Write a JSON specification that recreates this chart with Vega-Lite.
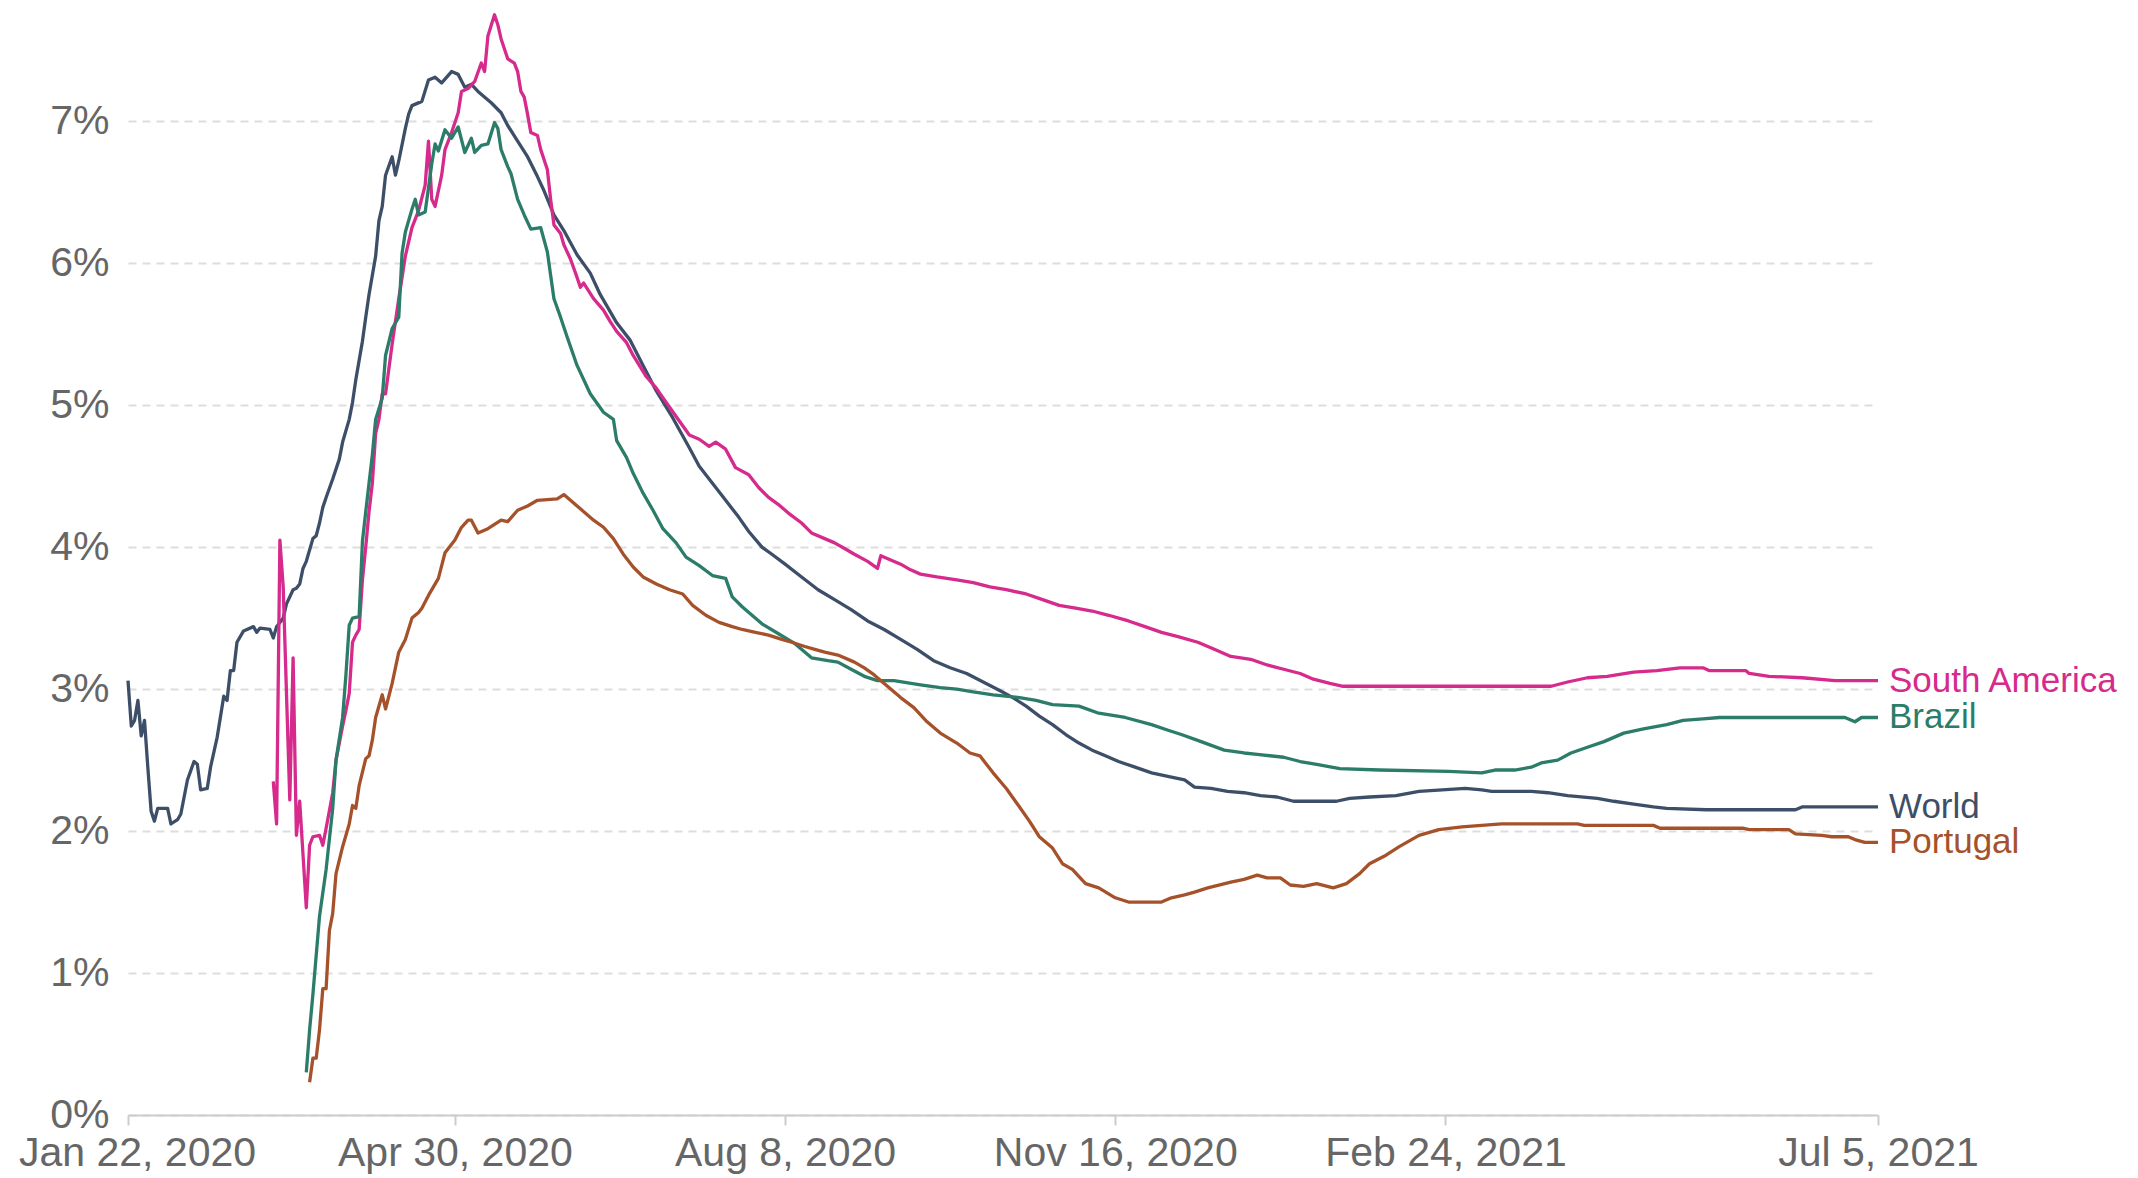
{
"$schema": "https://vega.github.io/schema/vega-lite/v6.json",
"width": 1750, "height": 1115,
"autosize": {"type": "none"},
"padding": {"left": 128, "top": 0, "right": 260, "bottom": 63},
"background": "white",
"config": {"view": {"stroke": null}, "font": "Liberation Sans"},
"data": {"format": {"parse": {"date": "utc:'%Y-%m-%d'"}}, "values": [
{"entity":"World","date":"2020-01-22","value":3.06},
{"entity":"World","date":"2020-01-23","value":2.74},
{"entity":"World","date":"2020-01-24","value":2.78},
{"entity":"World","date":"2020-01-25","value":2.92},
{"entity":"World","date":"2020-01-26","value":2.67},
{"entity":"World","date":"2020-01-27","value":2.78},
{"entity":"World","date":"2020-01-28","value":2.45},
{"entity":"World","date":"2020-01-29","value":2.14},
{"entity":"World","date":"2020-01-30","value":2.07},
{"entity":"World","date":"2020-01-31","value":2.16},
{"entity":"World","date":"2020-02-03","value":2.16},
{"entity":"World","date":"2020-02-04","value":2.05},
{"entity":"World","date":"2020-02-06","value":2.08},
{"entity":"World","date":"2020-02-07","value":2.12},
{"entity":"World","date":"2020-02-09","value":2.36},
{"entity":"World","date":"2020-02-11","value":2.49},
{"entity":"World","date":"2020-02-12","value":2.47},
{"entity":"World","date":"2020-02-13","value":2.29},
{"entity":"World","date":"2020-02-15","value":2.30},
{"entity":"World","date":"2020-02-16","value":2.45},
{"entity":"World","date":"2020-02-18","value":2.66},
{"entity":"World","date":"2020-02-20","value":2.95},
{"entity":"World","date":"2020-02-21","value":2.92},
{"entity":"World","date":"2020-02-22","value":3.13},
{"entity":"World","date":"2020-02-23","value":3.13},
{"entity":"World","date":"2020-02-24","value":3.33},
{"entity":"World","date":"2020-02-26","value":3.41},
{"entity":"World","date":"2020-02-29","value":3.44},
{"entity":"World","date":"2020-03-01","value":3.40},
{"entity":"World","date":"2020-03-02","value":3.43},
{"entity":"World","date":"2020-03-05","value":3.42},
{"entity":"World","date":"2020-03-06","value":3.36},
{"entity":"World","date":"2020-03-07","value":3.44},
{"entity":"World","date":"2020-03-09","value":3.50},
{"entity":"World","date":"2020-03-10","value":3.60},
{"entity":"World","date":"2020-03-12","value":3.70},
{"entity":"World","date":"2020-03-13","value":3.71},
{"entity":"World","date":"2020-03-14","value":3.74},
{"entity":"World","date":"2020-03-15","value":3.85},
{"entity":"World","date":"2020-03-16","value":3.90},
{"entity":"World","date":"2020-03-18","value":4.06},
{"entity":"World","date":"2020-03-19","value":4.08},
{"entity":"World","date":"2020-03-20","value":4.17},
{"entity":"World","date":"2020-03-21","value":4.28},
{"entity":"World","date":"2020-03-22","value":4.35},
{"entity":"World","date":"2020-03-24","value":4.48},
{"entity":"World","date":"2020-03-26","value":4.62},
{"entity":"World","date":"2020-03-27","value":4.74},
{"entity":"World","date":"2020-03-29","value":4.90},
{"entity":"World","date":"2020-03-30","value":5.02},
{"entity":"World","date":"2020-03-31","value":5.18},
{"entity":"World","date":"2020-04-02","value":5.45},
{"entity":"World","date":"2020-04-03","value":5.62},
{"entity":"World","date":"2020-04-04","value":5.78},
{"entity":"World","date":"2020-04-06","value":6.05},
{"entity":"World","date":"2020-04-07","value":6.30},
{"entity":"World","date":"2020-04-08","value":6.40},
{"entity":"World","date":"2020-04-09","value":6.62},
{"entity":"World","date":"2020-04-11","value":6.75},
{"entity":"World","date":"2020-04-12","value":6.62},
{"entity":"World","date":"2020-04-13","value":6.72},
{"entity":"World","date":"2020-04-15","value":6.95},
{"entity":"World","date":"2020-04-16","value":7.05},
{"entity":"World","date":"2020-04-17","value":7.11},
{"entity":"World","date":"2020-04-20","value":7.14},
{"entity":"World","date":"2020-04-22","value":7.29},
{"entity":"World","date":"2020-04-24","value":7.31},
{"entity":"World","date":"2020-04-26","value":7.27},
{"entity":"World","date":"2020-04-29","value":7.35},
{"entity":"World","date":"2020-05-01","value":7.33},
{"entity":"World","date":"2020-05-03","value":7.24},
{"entity":"World","date":"2020-05-05","value":7.26},
{"entity":"World","date":"2020-05-07","value":7.21},
{"entity":"World","date":"2020-05-11","value":7.13},
{"entity":"World","date":"2020-05-14","value":7.06},
{"entity":"World","date":"2020-05-16","value":6.97},
{"entity":"World","date":"2020-05-19","value":6.86},
{"entity":"World","date":"2020-05-22","value":6.75},
{"entity":"World","date":"2020-05-25","value":6.61},
{"entity":"World","date":"2020-05-27","value":6.51},
{"entity":"World","date":"2020-05-30","value":6.34},
{"entity":"World","date":"2020-06-02","value":6.23},
{"entity":"World","date":"2020-06-06","value":6.06},
{"entity":"World","date":"2020-06-10","value":5.93},
{"entity":"World","date":"2020-06-13","value":5.78},
{"entity":"World","date":"2020-06-18","value":5.58},
{"entity":"World","date":"2020-06-22","value":5.46},
{"entity":"World","date":"2020-06-26","value":5.28},
{"entity":"World","date":"2020-06-30","value":5.10},
{"entity":"World","date":"2020-07-05","value":4.91},
{"entity":"World","date":"2020-07-10","value":4.70},
{"entity":"World","date":"2020-07-13","value":4.57},
{"entity":"World","date":"2020-07-17","value":4.45},
{"entity":"World","date":"2020-07-21","value":4.33},
{"entity":"World","date":"2020-07-25","value":4.21},
{"entity":"World","date":"2020-07-28","value":4.11},
{"entity":"World","date":"2020-08-01","value":4.00},
{"entity":"World","date":"2020-08-04","value":3.95},
{"entity":"World","date":"2020-08-08","value":3.88},
{"entity":"World","date":"2020-08-13","value":3.79},
{"entity":"World","date":"2020-08-18","value":3.70},
{"entity":"World","date":"2020-08-23","value":3.63},
{"entity":"World","date":"2020-08-28","value":3.56},
{"entity":"World","date":"2020-09-02","value":3.48},
{"entity":"World","date":"2020-09-07","value":3.42},
{"entity":"World","date":"2020-09-12","value":3.35},
{"entity":"World","date":"2020-09-17","value":3.28},
{"entity":"World","date":"2020-09-22","value":3.20},
{"entity":"World","date":"2020-09-27","value":3.15},
{"entity":"World","date":"2020-10-02","value":3.11},
{"entity":"World","date":"2020-10-07","value":3.05},
{"entity":"World","date":"2020-10-12","value":2.99},
{"entity":"World","date":"2020-10-16","value":2.94},
{"entity":"World","date":"2020-10-20","value":2.88},
{"entity":"World","date":"2020-10-24","value":2.81},
{"entity":"World","date":"2020-10-28","value":2.75},
{"entity":"World","date":"2020-11-01","value":2.68},
{"entity":"World","date":"2020-11-05","value":2.62},
{"entity":"World","date":"2020-11-09","value":2.57},
{"entity":"World","date":"2020-11-13","value":2.53},
{"entity":"World","date":"2020-11-17","value":2.49},
{"entity":"World","date":"2020-11-22","value":2.45},
{"entity":"World","date":"2020-11-27","value":2.41},
{"entity":"World","date":"2020-12-03","value":2.38},
{"entity":"World","date":"2020-12-07","value":2.36},
{"entity":"World","date":"2020-12-10","value":2.31},
{"entity":"World","date":"2020-12-15","value":2.30},
{"entity":"World","date":"2020-12-20","value":2.28},
{"entity":"World","date":"2020-12-25","value":2.27},
{"entity":"World","date":"2020-12-30","value":2.25},
{"entity":"World","date":"2021-01-04","value":2.24},
{"entity":"World","date":"2021-01-09","value":2.21},
{"entity":"World","date":"2021-01-16","value":2.21},
{"entity":"World","date":"2021-01-22","value":2.21},
{"entity":"World","date":"2021-01-26","value":2.23},
{"entity":"World","date":"2021-02-01","value":2.24},
{"entity":"World","date":"2021-02-09","value":2.25},
{"entity":"World","date":"2021-02-16","value":2.28},
{"entity":"World","date":"2021-02-23","value":2.29},
{"entity":"World","date":"2021-03-02","value":2.30},
{"entity":"World","date":"2021-03-07","value":2.29},
{"entity":"World","date":"2021-03-10","value":2.28},
{"entity":"World","date":"2021-03-22","value":2.28},
{"entity":"World","date":"2021-03-27","value":2.27},
{"entity":"World","date":"2021-04-02","value":2.25},
{"entity":"World","date":"2021-04-11","value":2.23},
{"entity":"World","date":"2021-04-16","value":2.21},
{"entity":"World","date":"2021-04-22","value":2.19},
{"entity":"World","date":"2021-04-28","value":2.17},
{"entity":"World","date":"2021-05-02","value":2.16},
{"entity":"World","date":"2021-05-14","value":2.15},
{"entity":"World","date":"2021-05-26","value":2.15},
{"entity":"World","date":"2021-06-10","value":2.15},
{"entity":"World","date":"2021-06-12","value":2.17},
{"entity":"World","date":"2021-07-05","value":2.17},
{"entity":"South America","date":"2020-03-06","value":2.35},
{"entity":"South America","date":"2020-03-07","value":2.05},
{"entity":"South America","date":"2020-03-08","value":4.05},
{"entity":"South America","date":"2020-03-09","value":3.72},
{"entity":"South America","date":"2020-03-11","value":2.22},
{"entity":"South America","date":"2020-03-12","value":3.22},
{"entity":"South America","date":"2020-03-13","value":1.97},
{"entity":"South America","date":"2020-03-14","value":2.21},
{"entity":"South America","date":"2020-03-16","value":1.46},
{"entity":"South America","date":"2020-03-17","value":1.90},
{"entity":"South America","date":"2020-03-18","value":1.96},
{"entity":"South America","date":"2020-03-20","value":1.97},
{"entity":"South America","date":"2020-03-21","value":1.90},
{"entity":"South America","date":"2020-03-22","value":2.02},
{"entity":"South America","date":"2020-03-24","value":2.27},
{"entity":"South America","date":"2020-03-25","value":2.50},
{"entity":"South America","date":"2020-03-27","value":2.74},
{"entity":"South America","date":"2020-03-28","value":2.85},
{"entity":"South America","date":"2020-03-29","value":2.97},
{"entity":"South America","date":"2020-03-30","value":3.33},
{"entity":"South America","date":"2020-03-31","value":3.38},
{"entity":"South America","date":"2020-04-01","value":3.42},
{"entity":"South America","date":"2020-04-02","value":3.77},
{"entity":"South America","date":"2020-04-03","value":4.00},
{"entity":"South America","date":"2020-04-04","value":4.25},
{"entity":"South America","date":"2020-04-05","value":4.45},
{"entity":"South America","date":"2020-04-06","value":4.80},
{"entity":"South America","date":"2020-04-07","value":4.90},
{"entity":"South America","date":"2020-04-08","value":5.08},
{"entity":"South America","date":"2020-04-09","value":5.08},
{"entity":"South America","date":"2020-04-11","value":5.43},
{"entity":"South America","date":"2020-04-13","value":5.75},
{"entity":"South America","date":"2020-04-15","value":6.05},
{"entity":"South America","date":"2020-04-17","value":6.25},
{"entity":"South America","date":"2020-04-19","value":6.37},
{"entity":"South America","date":"2020-04-21","value":6.55},
{"entity":"South America","date":"2020-04-22","value":6.86},
{"entity":"South America","date":"2020-04-23","value":6.45},
{"entity":"South America","date":"2020-04-24","value":6.40},
{"entity":"South America","date":"2020-04-26","value":6.62},
{"entity":"South America","date":"2020-04-27","value":6.80},
{"entity":"South America","date":"2020-04-29","value":6.92},
{"entity":"South America","date":"2020-05-01","value":7.06},
{"entity":"South America","date":"2020-05-02","value":7.21},
{"entity":"South America","date":"2020-05-04","value":7.23},
{"entity":"South America","date":"2020-05-06","value":7.28},
{"entity":"South America","date":"2020-05-08","value":7.41},
{"entity":"South America","date":"2020-05-09","value":7.35},
{"entity":"South America","date":"2020-05-10","value":7.60},
{"entity":"South America","date":"2020-05-12","value":7.75},
{"entity":"South America","date":"2020-05-13","value":7.68},
{"entity":"South America","date":"2020-05-14","value":7.58},
{"entity":"South America","date":"2020-05-16","value":7.44},
{"entity":"South America","date":"2020-05-18","value":7.41},
{"entity":"South America","date":"2020-05-19","value":7.35},
{"entity":"South America","date":"2020-05-20","value":7.21},
{"entity":"South America","date":"2020-05-21","value":7.17},
{"entity":"South America","date":"2020-05-22","value":7.05},
{"entity":"South America","date":"2020-05-23","value":6.92},
{"entity":"South America","date":"2020-05-25","value":6.90},
{"entity":"South America","date":"2020-05-26","value":6.80},
{"entity":"South America","date":"2020-05-28","value":6.66},
{"entity":"South America","date":"2020-05-29","value":6.45},
{"entity":"South America","date":"2020-05-30","value":6.27},
{"entity":"South America","date":"2020-06-01","value":6.21},
{"entity":"South America","date":"2020-06-02","value":6.13},
{"entity":"South America","date":"2020-06-04","value":6.03},
{"entity":"South America","date":"2020-06-06","value":5.90},
{"entity":"South America","date":"2020-06-07","value":5.83},
{"entity":"South America","date":"2020-06-08","value":5.86},
{"entity":"South America","date":"2020-06-11","value":5.75},
{"entity":"South America","date":"2020-06-14","value":5.67},
{"entity":"South America","date":"2020-06-16","value":5.59},
{"entity":"South America","date":"2020-06-18","value":5.52},
{"entity":"South America","date":"2020-06-21","value":5.44},
{"entity":"South America","date":"2020-06-23","value":5.35},
{"entity":"South America","date":"2020-06-27","value":5.20},
{"entity":"South America","date":"2020-06-30","value":5.12},
{"entity":"South America","date":"2020-07-03","value":5.02},
{"entity":"South America","date":"2020-07-06","value":4.92},
{"entity":"South America","date":"2020-07-10","value":4.79},
{"entity":"South America","date":"2020-07-13","value":4.76},
{"entity":"South America","date":"2020-07-16","value":4.71},
{"entity":"South America","date":"2020-07-18","value":4.74},
{"entity":"South America","date":"2020-07-21","value":4.69},
{"entity":"South America","date":"2020-07-24","value":4.56},
{"entity":"South America","date":"2020-07-28","value":4.51},
{"entity":"South America","date":"2020-07-31","value":4.42},
{"entity":"South America","date":"2020-08-03","value":4.35},
{"entity":"South America","date":"2020-08-06","value":4.30},
{"entity":"South America","date":"2020-08-09","value":4.24},
{"entity":"South America","date":"2020-08-13","value":4.17},
{"entity":"South America","date":"2020-08-16","value":4.10},
{"entity":"South America","date":"2020-08-20","value":4.06},
{"entity":"South America","date":"2020-08-23","value":4.03},
{"entity":"South America","date":"2020-08-26","value":3.99},
{"entity":"South America","date":"2020-08-29","value":3.95},
{"entity":"South America","date":"2020-09-02","value":3.90},
{"entity":"South America","date":"2020-09-05","value":3.85},
{"entity":"South America","date":"2020-09-06","value":3.94},
{"entity":"South America","date":"2020-09-09","value":3.91},
{"entity":"South America","date":"2020-09-12","value":3.88},
{"entity":"South America","date":"2020-09-15","value":3.84},
{"entity":"South America","date":"2020-09-18","value":3.81},
{"entity":"South America","date":"2020-09-23","value":3.79},
{"entity":"South America","date":"2020-09-29","value":3.77},
{"entity":"South America","date":"2020-10-04","value":3.75},
{"entity":"South America","date":"2020-10-09","value":3.72},
{"entity":"South America","date":"2020-10-14","value":3.70},
{"entity":"South America","date":"2020-10-20","value":3.67},
{"entity":"South America","date":"2020-10-25","value":3.63},
{"entity":"South America","date":"2020-10-30","value":3.59},
{"entity":"South America","date":"2020-11-04","value":3.57},
{"entity":"South America","date":"2020-11-09","value":3.55},
{"entity":"South America","date":"2020-11-14","value":3.52},
{"entity":"South America","date":"2020-11-20","value":3.48},
{"entity":"South America","date":"2020-11-25","value":3.44},
{"entity":"South America","date":"2020-11-30","value":3.40},
{"entity":"South America","date":"2020-12-05","value":3.37},
{"entity":"South America","date":"2020-12-11","value":3.33},
{"entity":"South America","date":"2020-12-16","value":3.28},
{"entity":"South America","date":"2020-12-21","value":3.23},
{"entity":"South America","date":"2020-12-27","value":3.21},
{"entity":"South America","date":"2021-01-01","value":3.17},
{"entity":"South America","date":"2021-01-06","value":3.14},
{"entity":"South America","date":"2021-01-11","value":3.11},
{"entity":"South America","date":"2021-01-15","value":3.07},
{"entity":"South America","date":"2021-01-20","value":3.04},
{"entity":"South America","date":"2021-01-24","value":3.02},
{"entity":"South America","date":"2021-02-05","value":3.02},
{"entity":"South America","date":"2021-02-25","value":3.02},
{"entity":"South America","date":"2021-03-17","value":3.02},
{"entity":"South America","date":"2021-03-28","value":3.02},
{"entity":"South America","date":"2021-04-02","value":3.05},
{"entity":"South America","date":"2021-04-08","value":3.08},
{"entity":"South America","date":"2021-04-14","value":3.09},
{"entity":"South America","date":"2021-04-22","value":3.12},
{"entity":"South America","date":"2021-04-29","value":3.13},
{"entity":"South America","date":"2021-05-06","value":3.15},
{"entity":"South America","date":"2021-05-13","value":3.15},
{"entity":"South America","date":"2021-05-15","value":3.13},
{"entity":"South America","date":"2021-05-26","value":3.13},
{"entity":"South America","date":"2021-05-27","value":3.11},
{"entity":"South America","date":"2021-06-02","value":3.09},
{"entity":"South America","date":"2021-06-12","value":3.08},
{"entity":"South America","date":"2021-06-22","value":3.06},
{"entity":"South America","date":"2021-07-05","value":3.06},
{"entity":"Brazil","date":"2020-03-16","value":0.30},
{"entity":"Brazil","date":"2020-03-17","value":0.60},
{"entity":"Brazil","date":"2020-03-18","value":0.85},
{"entity":"Brazil","date":"2020-03-20","value":1.40},
{"entity":"Brazil","date":"2020-03-22","value":1.73},
{"entity":"Brazil","date":"2020-03-24","value":2.16},
{"entity":"Brazil","date":"2020-03-25","value":2.50},
{"entity":"Brazil","date":"2020-03-27","value":2.80},
{"entity":"Brazil","date":"2020-03-28","value":3.10},
{"entity":"Brazil","date":"2020-03-29","value":3.45},
{"entity":"Brazil","date":"2020-03-30","value":3.50},
{"entity":"Brazil","date":"2020-04-01","value":3.51},
{"entity":"Brazil","date":"2020-04-02","value":4.04},
{"entity":"Brazil","date":"2020-04-03","value":4.25},
{"entity":"Brazil","date":"2020-04-04","value":4.45},
{"entity":"Brazil","date":"2020-04-05","value":4.65},
{"entity":"Brazil","date":"2020-04-06","value":4.90},
{"entity":"Brazil","date":"2020-04-08","value":5.05},
{"entity":"Brazil","date":"2020-04-09","value":5.35},
{"entity":"Brazil","date":"2020-04-11","value":5.54},
{"entity":"Brazil","date":"2020-04-13","value":5.62},
{"entity":"Brazil","date":"2020-04-14","value":6.07},
{"entity":"Brazil","date":"2020-04-15","value":6.22},
{"entity":"Brazil","date":"2020-04-17","value":6.38},
{"entity":"Brazil","date":"2020-04-18","value":6.45},
{"entity":"Brazil","date":"2020-04-19","value":6.34},
{"entity":"Brazil","date":"2020-04-21","value":6.36},
{"entity":"Brazil","date":"2020-04-23","value":6.70},
{"entity":"Brazil","date":"2020-04-24","value":6.84},
{"entity":"Brazil","date":"2020-04-25","value":6.79},
{"entity":"Brazil","date":"2020-04-27","value":6.94},
{"entity":"Brazil","date":"2020-04-29","value":6.88},
{"entity":"Brazil","date":"2020-05-01","value":6.96},
{"entity":"Brazil","date":"2020-05-03","value":6.78},
{"entity":"Brazil","date":"2020-05-05","value":6.88},
{"entity":"Brazil","date":"2020-05-06","value":6.78},
{"entity":"Brazil","date":"2020-05-08","value":6.83},
{"entity":"Brazil","date":"2020-05-10","value":6.84},
{"entity":"Brazil","date":"2020-05-12","value":6.99},
{"entity":"Brazil","date":"2020-05-13","value":6.95},
{"entity":"Brazil","date":"2020-05-14","value":6.80},
{"entity":"Brazil","date":"2020-05-16","value":6.68},
{"entity":"Brazil","date":"2020-05-17","value":6.63},
{"entity":"Brazil","date":"2020-05-19","value":6.45},
{"entity":"Brazil","date":"2020-05-21","value":6.34},
{"entity":"Brazil","date":"2020-05-23","value":6.24},
{"entity":"Brazil","date":"2020-05-26","value":6.25},
{"entity":"Brazil","date":"2020-05-28","value":6.08},
{"entity":"Brazil","date":"2020-05-30","value":5.75},
{"entity":"Brazil","date":"2020-06-01","value":5.62},
{"entity":"Brazil","date":"2020-06-03","value":5.48},
{"entity":"Brazil","date":"2020-06-06","value":5.28},
{"entity":"Brazil","date":"2020-06-10","value":5.08},
{"entity":"Brazil","date":"2020-06-14","value":4.95},
{"entity":"Brazil","date":"2020-06-17","value":4.90},
{"entity":"Brazil","date":"2020-06-18","value":4.75},
{"entity":"Brazil","date":"2020-06-21","value":4.63},
{"entity":"Brazil","date":"2020-06-23","value":4.52},
{"entity":"Brazil","date":"2020-06-26","value":4.38},
{"entity":"Brazil","date":"2020-06-29","value":4.26},
{"entity":"Brazil","date":"2020-07-02","value":4.13},
{"entity":"Brazil","date":"2020-07-06","value":4.03},
{"entity":"Brazil","date":"2020-07-09","value":3.93},
{"entity":"Brazil","date":"2020-07-13","value":3.87},
{"entity":"Brazil","date":"2020-07-17","value":3.80},
{"entity":"Brazil","date":"2020-07-21","value":3.78},
{"entity":"Brazil","date":"2020-07-23","value":3.65},
{"entity":"Brazil","date":"2020-07-26","value":3.58},
{"entity":"Brazil","date":"2020-07-29","value":3.52},
{"entity":"Brazil","date":"2020-08-01","value":3.46},
{"entity":"Brazil","date":"2020-08-06","value":3.39},
{"entity":"Brazil","date":"2020-08-11","value":3.32},
{"entity":"Brazil","date":"2020-08-16","value":3.22},
{"entity":"Brazil","date":"2020-08-21","value":3.20},
{"entity":"Brazil","date":"2020-08-24","value":3.19},
{"entity":"Brazil","date":"2020-08-28","value":3.14},
{"entity":"Brazil","date":"2020-09-01","value":3.09},
{"entity":"Brazil","date":"2020-09-05","value":3.06},
{"entity":"Brazil","date":"2020-09-10","value":3.06},
{"entity":"Brazil","date":"2020-09-18","value":3.03},
{"entity":"Brazil","date":"2020-09-24","value":3.01},
{"entity":"Brazil","date":"2020-09-29","value":3.00},
{"entity":"Brazil","date":"2020-10-04","value":2.98},
{"entity":"Brazil","date":"2020-10-10","value":2.96},
{"entity":"Brazil","date":"2020-10-18","value":2.94},
{"entity":"Brazil","date":"2020-10-23","value":2.92},
{"entity":"Brazil","date":"2020-10-28","value":2.89},
{"entity":"Brazil","date":"2020-11-05","value":2.88},
{"entity":"Brazil","date":"2020-11-11","value":2.83},
{"entity":"Brazil","date":"2020-11-19","value":2.80},
{"entity":"Brazil","date":"2020-11-27","value":2.75},
{"entity":"Brazil","date":"2020-12-02","value":2.71},
{"entity":"Brazil","date":"2020-12-06","value":2.68},
{"entity":"Brazil","date":"2020-12-12","value":2.63},
{"entity":"Brazil","date":"2020-12-19","value":2.57},
{"entity":"Brazil","date":"2020-12-25","value":2.55},
{"entity":"Brazil","date":"2020-12-29","value":2.54},
{"entity":"Brazil","date":"2021-01-06","value":2.52},
{"entity":"Brazil","date":"2021-01-11","value":2.49},
{"entity":"Brazil","date":"2021-01-16","value":2.47},
{"entity":"Brazil","date":"2021-01-23","value":2.44},
{"entity":"Brazil","date":"2021-02-04","value":2.43},
{"entity":"Brazil","date":"2021-02-25","value":2.42},
{"entity":"Brazil","date":"2021-03-07","value":2.41},
{"entity":"Brazil","date":"2021-03-11","value":2.43},
{"entity":"Brazil","date":"2021-03-17","value":2.43},
{"entity":"Brazil","date":"2021-03-22","value":2.45},
{"entity":"Brazil","date":"2021-03-25","value":2.48},
{"entity":"Brazil","date":"2021-03-30","value":2.50},
{"entity":"Brazil","date":"2021-04-03","value":2.55},
{"entity":"Brazil","date":"2021-04-08","value":2.59},
{"entity":"Brazil","date":"2021-04-13","value":2.63},
{"entity":"Brazil","date":"2021-04-19","value":2.69},
{"entity":"Brazil","date":"2021-04-25","value":2.72},
{"entity":"Brazil","date":"2021-05-02","value":2.75},
{"entity":"Brazil","date":"2021-05-07","value":2.78},
{"entity":"Brazil","date":"2021-05-13","value":2.79},
{"entity":"Brazil","date":"2021-05-18","value":2.80},
{"entity":"Brazil","date":"2021-06-25","value":2.80},
{"entity":"Brazil","date":"2021-06-28","value":2.77},
{"entity":"Brazil","date":"2021-06-30","value":2.80},
{"entity":"Brazil","date":"2021-07-05","value":2.80},
{"entity":"Portugal","date":"2020-03-17","value":0.23},
{"entity":"Portugal","date":"2020-03-18","value":0.40},
{"entity":"Portugal","date":"2020-03-19","value":0.40},
{"entity":"Portugal","date":"2020-03-20","value":0.60},
{"entity":"Portugal","date":"2020-03-21","value":0.89},
{"entity":"Portugal","date":"2020-03-22","value":0.89},
{"entity":"Portugal","date":"2020-03-23","value":1.30},
{"entity":"Portugal","date":"2020-03-24","value":1.42},
{"entity":"Portugal","date":"2020-03-25","value":1.70},
{"entity":"Portugal","date":"2020-03-27","value":1.89},
{"entity":"Portugal","date":"2020-03-29","value":2.05},
{"entity":"Portugal","date":"2020-03-30","value":2.18},
{"entity":"Portugal","date":"2020-03-31","value":2.16},
{"entity":"Portugal","date":"2020-04-01","value":2.32},
{"entity":"Portugal","date":"2020-04-03","value":2.51},
{"entity":"Portugal","date":"2020-04-04","value":2.53},
{"entity":"Portugal","date":"2020-04-05","value":2.64},
{"entity":"Portugal","date":"2020-04-06","value":2.80},
{"entity":"Portugal","date":"2020-04-08","value":2.96},
{"entity":"Portugal","date":"2020-04-09","value":2.86},
{"entity":"Portugal","date":"2020-04-11","value":3.04},
{"entity":"Portugal","date":"2020-04-13","value":3.26},
{"entity":"Portugal","date":"2020-04-15","value":3.35},
{"entity":"Portugal","date":"2020-04-17","value":3.50},
{"entity":"Portugal","date":"2020-04-19","value":3.54},
{"entity":"Portugal","date":"2020-04-20","value":3.57},
{"entity":"Portugal","date":"2020-04-22","value":3.66},
{"entity":"Portugal","date":"2020-04-25","value":3.78},
{"entity":"Portugal","date":"2020-04-27","value":3.96},
{"entity":"Portugal","date":"2020-04-30","value":4.05},
{"entity":"Portugal","date":"2020-05-02","value":4.14},
{"entity":"Portugal","date":"2020-05-04","value":4.19},
{"entity":"Portugal","date":"2020-05-05","value":4.19},
{"entity":"Portugal","date":"2020-05-07","value":4.10},
{"entity":"Portugal","date":"2020-05-10","value":4.13},
{"entity":"Portugal","date":"2020-05-14","value":4.19},
{"entity":"Portugal","date":"2020-05-16","value":4.18},
{"entity":"Portugal","date":"2020-05-19","value":4.26},
{"entity":"Portugal","date":"2020-05-22","value":4.29},
{"entity":"Portugal","date":"2020-05-25","value":4.33},
{"entity":"Portugal","date":"2020-05-31","value":4.34},
{"entity":"Portugal","date":"2020-06-02","value":4.37},
{"entity":"Portugal","date":"2020-06-04","value":4.33},
{"entity":"Portugal","date":"2020-06-07","value":4.27},
{"entity":"Portugal","date":"2020-06-11","value":4.19},
{"entity":"Portugal","date":"2020-06-14","value":4.14},
{"entity":"Portugal","date":"2020-06-17","value":4.06},
{"entity":"Portugal","date":"2020-06-20","value":3.95},
{"entity":"Portugal","date":"2020-06-23","value":3.86},
{"entity":"Portugal","date":"2020-06-26","value":3.79},
{"entity":"Portugal","date":"2020-06-30","value":3.74},
{"entity":"Portugal","date":"2020-07-04","value":3.70},
{"entity":"Portugal","date":"2020-07-08","value":3.67},
{"entity":"Portugal","date":"2020-07-11","value":3.59},
{"entity":"Portugal","date":"2020-07-15","value":3.52},
{"entity":"Portugal","date":"2020-07-19","value":3.47},
{"entity":"Portugal","date":"2020-07-23","value":3.44},
{"entity":"Portugal","date":"2020-07-26","value":3.42},
{"entity":"Portugal","date":"2020-07-30","value":3.40},
{"entity":"Portugal","date":"2020-08-03","value":3.38},
{"entity":"Portugal","date":"2020-08-07","value":3.35},
{"entity":"Portugal","date":"2020-08-10","value":3.33},
{"entity":"Portugal","date":"2020-08-14","value":3.30},
{"entity":"Portugal","date":"2020-08-17","value":3.28},
{"entity":"Portugal","date":"2020-08-20","value":3.26},
{"entity":"Portugal","date":"2020-08-24","value":3.24},
{"entity":"Portugal","date":"2020-08-29","value":3.19},
{"entity":"Portugal","date":"2020-09-01","value":3.15},
{"entity":"Portugal","date":"2020-09-04","value":3.10},
{"entity":"Portugal","date":"2020-09-08","value":3.02},
{"entity":"Portugal","date":"2020-09-12","value":2.94},
{"entity":"Portugal","date":"2020-09-16","value":2.87},
{"entity":"Portugal","date":"2020-09-20","value":2.77},
{"entity":"Portugal","date":"2020-09-24","value":2.69},
{"entity":"Portugal","date":"2020-09-29","value":2.62},
{"entity":"Portugal","date":"2020-10-03","value":2.55},
{"entity":"Portugal","date":"2020-10-06","value":2.53},
{"entity":"Portugal","date":"2020-10-10","value":2.41},
{"entity":"Portugal","date":"2020-10-14","value":2.30},
{"entity":"Portugal","date":"2020-10-18","value":2.17},
{"entity":"Portugal","date":"2020-10-21","value":2.07},
{"entity":"Portugal","date":"2020-10-24","value":1.96},
{"entity":"Portugal","date":"2020-10-28","value":1.88},
{"entity":"Portugal","date":"2020-10-31","value":1.77},
{"entity":"Portugal","date":"2020-11-03","value":1.73},
{"entity":"Portugal","date":"2020-11-07","value":1.63},
{"entity":"Portugal","date":"2020-11-11","value":1.60},
{"entity":"Portugal","date":"2020-11-16","value":1.53},
{"entity":"Portugal","date":"2020-11-20","value":1.50},
{"entity":"Portugal","date":"2020-11-30","value":1.50},
{"entity":"Portugal","date":"2020-12-03","value":1.53},
{"entity":"Portugal","date":"2020-12-07","value":1.55},
{"entity":"Portugal","date":"2020-12-10","value":1.57},
{"entity":"Portugal","date":"2020-12-14","value":1.60},
{"entity":"Portugal","date":"2020-12-21","value":1.64},
{"entity":"Portugal","date":"2020-12-25","value":1.66},
{"entity":"Portugal","date":"2020-12-29","value":1.69},
{"entity":"Portugal","date":"2021-01-01","value":1.67},
{"entity":"Portugal","date":"2021-01-05","value":1.67},
{"entity":"Portugal","date":"2021-01-08","value":1.62},
{"entity":"Portugal","date":"2021-01-12","value":1.61},
{"entity":"Portugal","date":"2021-01-16","value":1.63},
{"entity":"Portugal","date":"2021-01-21","value":1.60},
{"entity":"Portugal","date":"2021-01-25","value":1.63},
{"entity":"Portugal","date":"2021-01-29","value":1.70},
{"entity":"Portugal","date":"2021-02-01","value":1.77},
{"entity":"Portugal","date":"2021-02-06","value":1.83},
{"entity":"Portugal","date":"2021-02-10","value":1.89},
{"entity":"Portugal","date":"2021-02-16","value":1.97},
{"entity":"Portugal","date":"2021-02-22","value":2.01},
{"entity":"Portugal","date":"2021-03-01","value":2.03},
{"entity":"Portugal","date":"2021-03-13","value":2.05},
{"entity":"Portugal","date":"2021-04-05","value":2.05},
{"entity":"Portugal","date":"2021-04-07","value":2.04},
{"entity":"Portugal","date":"2021-04-28","value":2.04},
{"entity":"Portugal","date":"2021-04-30","value":2.02},
{"entity":"Portugal","date":"2021-05-25","value":2.02},
{"entity":"Portugal","date":"2021-05-27","value":2.01},
{"entity":"Portugal","date":"2021-06-08","value":2.01},
{"entity":"Portugal","date":"2021-06-10","value":1.98},
{"entity":"Portugal","date":"2021-06-18","value":1.97},
{"entity":"Portugal","date":"2021-06-21","value":1.96},
{"entity":"Portugal","date":"2021-06-26","value":1.96},
{"entity":"Portugal","date":"2021-06-28","value":1.94},
{"entity":"Portugal","date":"2021-07-01","value":1.92},
{"entity":"Portugal","date":"2021-07-05","value":1.92}
]},
"encoding": {
  "x": {"field": "date", "type": "temporal",
    "scale": {"type": "utc", "domain": [{"year": 2020, "month": 1, "date": 22, "utc": true}, {"year": 2021, "month": 7, "date": 5, "utc": true}], "nice": false},
    "axis": {"title": null, "grid": false, "zindex": 1,
      "values": [{"year": 2020, "month": 1, "date": 22, "utc": true}, {"year": 2020, "month": 4, "date": 30, "utc": true}, {"year": 2020, "month": 8, "date": 8, "utc": true}, {"year": 2020, "month": 11, "date": 16, "utc": true}, {"year": 2021, "month": 2, "date": 24, "utc": true}, {"year": 2021, "month": 7, "date": 5, "utc": true}],
      "labelExpr": "utcFormat(datum.value, '%b %-d, %Y')",
      "labelOffset": {"condition": {"test": "datum.index == 0", "value": 9}, "value": 0},
      "domainColor": "#cccccc", "domainWidth": 2, "tickColor": "#cccccc", "tickWidth": 2, "tickSize": 10,
      "labelFont": "Liberation Sans", "labelFontSize": 41, "labelColor": "#666666", "labelPadding": 8,
      "labelLimit": 600, "labelOverlap": false, "labelBound": false, "labelFlush": false}},
  "y": {"field": "value", "type": "quantitative",
    "scale": {"domain": [0, 7.854], "nice": false, "zero": true},
    "axis": {"title": null, "values": [0, 1, 2, 3, 4, 5, 6, 7], "labelExpr": "datum.value + '%'",
      "domain": false, "ticks": false, "grid": true, "gridColor": "#dddddd", "gridWidth": 2, "gridDash": [8, 6],
      "labelFont": "Liberation Sans", "labelFontSize": 41, "labelColor": "#666666", "labelPadding": 19, "labelLimit": 300}},
  "color": {"field": "entity", "type": "nominal", "legend": null,
    "scale": {"domain": ["South America", "Brazil", "World", "Portugal"], "range": ["#d62a8c", "#2b7c69", "#3d4f68", "#a5522b"]}}
},
"layer": [
  {"mark": {"type": "line", "strokeWidth": 3.3, "strokeJoin": "round"}},
  {"transform": [{"filter": "utcyear(datum.date) == 2021 && utcmonth(datum.date) == 6 && utcdate(datum.date) == 5"}],
   "mark": {"type": "text", "align": "left", "baseline": "middle", "dx": 11, "fontSize": 35, "font": "Liberation Sans", "limit": 400},
   "encoding": {"text": {"field": "entity"}}}
]
}
